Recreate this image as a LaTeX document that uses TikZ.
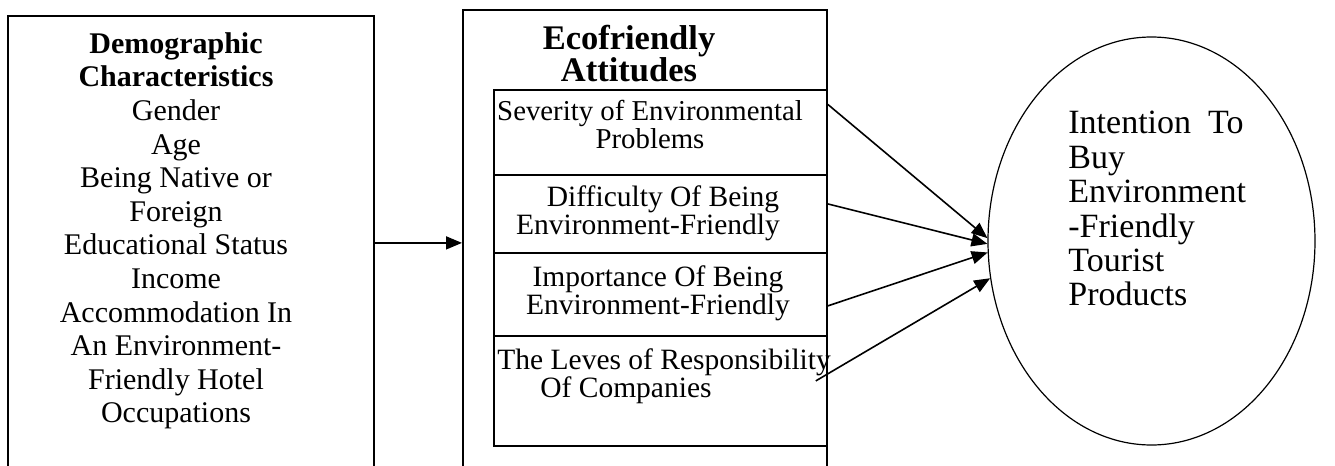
\documentclass[tikz,border=0pt]{standalone}
\usepackage{fontspec}
\setmainfont{Liberation Serif}
\usepackage{tikz}
\usetikzlibrary{positioning,shapes.geometric,arrows.meta}

\begin{document}
\begin{tikzpicture}[
  x=0.5pt, y=-0.5pt,
  outerbox/.style={rectangle, draw=black, line width=0.9pt, anchor=north west, inner sep=0pt},
  itembox/.style={rectangle, draw=black, line width=0.9pt, anchor=north west, inner sep=0pt, minimum width=166.5pt},
  itemtext/.style={anchor=north, inner sep=0pt, align=center, font=\fontsize{14.75}{14}\selectfont},
  goalnode/.style={ellipse, draw=black, line width=0.6pt, minimum width=163.5pt, minimum height=204pt, inner sep=0pt},
  link/.style={line width=0.8pt, -{Triangle[length=8pt,width=6.5pt]}}
]
\path[use as bounding box, clip] (0,0) rectangle (1335,466);

%Nodes
\node[outerbox, minimum width=183pt, minimum height=227pt] (demo) at (7,15) {};
\node[anchor=north, inner sep=0pt, align=center, font=\fontsize{15}{16.8}\selectfont] (demotxt) at (176,32)
  {\textbf{Demographic}\\ \textbf{Characteristics}\\ Gender\\ Age\\ Being Native or\\ Foreign\\
   Educational Status\\ Income\\ Accommodation In\\ An Environment-\\ Friendly Hotel\\ Occupations};

\node[outerbox, minimum width=182pt, minimum height=233pt] (att) at (462,9) {};
\node[anchor=north, inner sep=0pt, align=center, font=\fontsize{17.25}{16}\selectfont\bfseries] (atttxt) at (629,25)
  {Ecofriendly\\ Attitudes};

\node[itembox, minimum height=42.5pt] (sev) at (493,89) {};
\node[itembox, minimum height=39pt] (diff) at (493,174) {};
\node[itembox, minimum height=41.5pt] (imp) at (493,252) {};
\node[itembox, minimum height=55pt] (resp) at (493,335) {};

\node[itemtext, font=\fontsize{14.4}{14}\selectfont] (sevtxt) at (650,100) {Severity of Environmental\\ Problems};
\node[itemtext] (difftxt) at (648,185) {\hspace*{15pt}Difficulty Of Being\\ Environment-Friendly};
\node[itemtext] (imptxt) at (658,265) {Importance Of Being\\ Environment-Friendly};
\node[itemtext, anchor=north west, align=left] (resptxt) at (497,348) {The Leves of Responsibility\\ \hspace*{21.5pt}Of Companies};

\node[goalnode] (intent) at (1151.5,241) {};
\node[anchor=north west, inner sep=0pt, align=left, font=\fontsize{17}{17.2}\selectfont] (intenttxt) at (1068,111)
  {Intention\ \ To\\ Buy\\ Environment\\ -Friendly\\ Tourist\\ Products};

%Arrows
\draw[link] (demo.east) -- (att.west);
\draw[link] ([yshift=14pt]sev.east) -- (intent.179);
\draw[link] ([yshift=5pt]diff.east) -- (intent.181.5);
\draw[link] ([yshift=-5.75pt]imp.east) -- (intent.184.5);
\draw[link] ([xshift=-6pt,yshift=5pt]resp.east) -- (intent.193.5);
\end{tikzpicture}
\end{document}
